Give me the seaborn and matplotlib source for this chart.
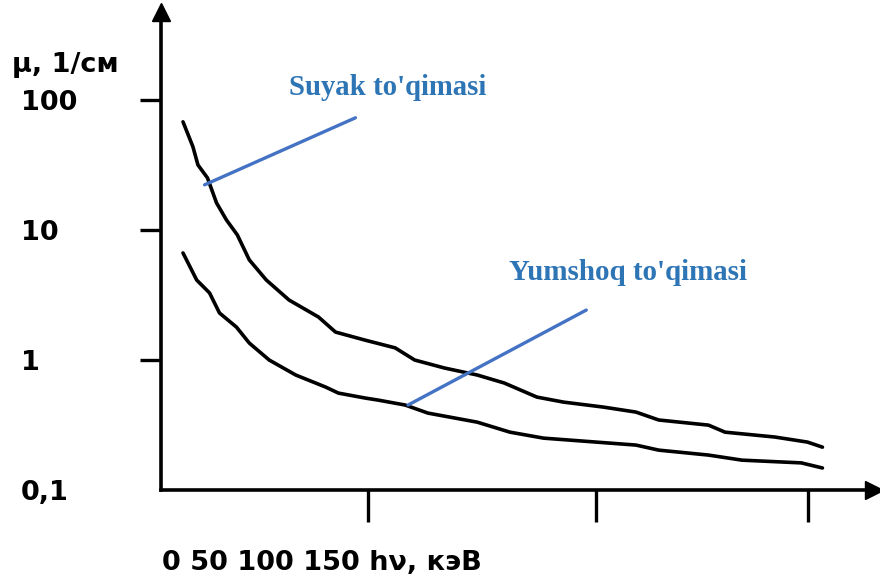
import numpy as np
import pandas as pd
import seaborn as sns
import matplotlib.pyplot as plt

# Bone tissue curve (Suyak to'qimasi)
bone_e = [5.3, 7.7, 8.9, 11.2, 13.4, 15.8, 18.4, 21.3, 25.4, 30.9, 38.0, 42.1, 49.3,
          56.5, 61.2, 68.4, 76.3, 82.8, 90.7, 97.1, 106.7, 114.6, 120.1, 132.1,
          136.1, 148.1, 156.0, 159.6]
bone_mu = [67.7, 43.5, 31.6, 25.1, 16.1, 11.9, 9.16, 5.88, 4.12, 2.89, 2.14, 1.64, 1.42,
           1.24, 1.0, 0.868, 0.767, 0.666, 0.519, 0.475, 0.435, 0.398, 0.346, 0.316,
           0.279, 0.256, 0.234, 0.214]

# Soft tissue curve (Yumshoq to'qimasi)
soft_e = [5.3, 8.6, 11.7, 14.1, 18.2, 21.3, 26.1, 32.5, 39.7, 42.8, 49.3, 52.4, 58.9,
          64.4, 76.3, 84.2, 92.3, 114.6, 120.1, 132.1, 140.2, 154.5, 159.6]
soft_mu = [6.65, 4.12, 3.28, 2.30, 1.79, 1.35, 1.0, 0.767, 0.620, 0.557, 0.510, 0.492,
           0.451, 0.391, 0.333, 0.279, 0.251, 0.222, 0.203, 0.186, 0.170, 0.162, 0.148]

x_ticks = [50, 105, 156]
y_ticks = [0.1, 1, 10, 100]
y_labels = ['0,1', '1', '10', '100']

df = pd.concat([
    pd.DataFrame({'E': bone_e, 'mu': bone_mu, 'tissue': 'bone'}),
    pd.DataFrame({'E': soft_e, 'mu': soft_mu, 'tissue': 'soft'}),
])

sns.set_style('white')
plt.rcParams['font.family'] = ['DejaVu Sans']
plt.rcParams['text.color'] = 'black'

fig = plt.figure(figsize=(8.8, 5.87), dpi=100)
ax = fig.add_axes([0.183, 0.165, 0.81, 0.815])

sns.lineplot(data=df, x='E', y='mu', hue='tissue', palette=['black', 'black'],
             estimator=None, sort=False, linewidth=2.6, legend=False, ax=ax)

ax.set_yscale('log')
ax.set_xlim(0, 172)
ax.set_ylim(0.1, 475)
ax.set_xlabel('')
ax.set_ylabel('')

for s in ['top', 'right']:
    ax.spines[s].set_visible(False)
for s in ['left', 'bottom']:
    ax.spines[s].set_linewidth(2.6)
    ax.spines[s].set_color('black')

ax.set_xticks(x_ticks, labels=[])
ax.tick_params(axis='x', direction='out', length=23, width=2.4, color='black', bottom=True)
ax.set_yticks(y_ticks, labels=y_labels)
ax.yaxis.set_minor_locator(plt.NullLocator())
ax.tick_params(axis='y', direction='out', length=15, width=2.4, color='black', left=True,
               pad=86, labelsize=19.5, labelcolor='black')
for lbl in ax.get_yticklabels():
    lbl.set_horizontalalignment('left')
    lbl.set_fontweight('bold')
ax.yaxis.get_major_ticks()[0].tick1line.set_visible(False)

# axis arrows
ax.plot(0, 1, marker='^', color='black', markersize=13, transform=ax.transAxes, clip_on=False)
ax.plot(1, 0, marker='>', color='black', markersize=13, transform=ax.transAxes, clip_on=False)

# pointer lines and labels
blue_line = '#4472C4'
blue_text = '#2E75B6'
ax.annotate('', xy=(10.5, 22.2), xytext=(46.9, 72.7),
            arrowprops=dict(arrowstyle='-', color=blue_line, lw=2.4, shrinkA=0, shrinkB=0))
ax.annotate('', xy=(59.6, 0.451), xytext=(102.6, 2.42),
            arrowprops=dict(arrowstyle='-', color=blue_line, lw=2.4, shrinkA=0, shrinkB=0))
ax.text(30.9, 124, "Suyak to'qimasi", color=blue_text, fontsize=20.7, fontweight='bold',
        family='Liberation Serif', ha='left', va='center')
ax.text(84.0, 4.67, "Yumshoq to'qimasi", color=blue_text, fontsize=20.9, fontweight='bold',
        family='Liberation Serif', ha='left', va='center')

fig.text(12 / 880, 1 - 65 / 587, 'μ, 1/см', fontsize=19.5, fontweight='bold',
         ha='left', va='center')
fig.text(162 / 880, 1 - 563 / 587, '0 50 100 150 hν, кэВ', fontsize=19.5, fontweight='bold',
         ha='left', va='center')

fig.savefig('out.png', dpi=100)
